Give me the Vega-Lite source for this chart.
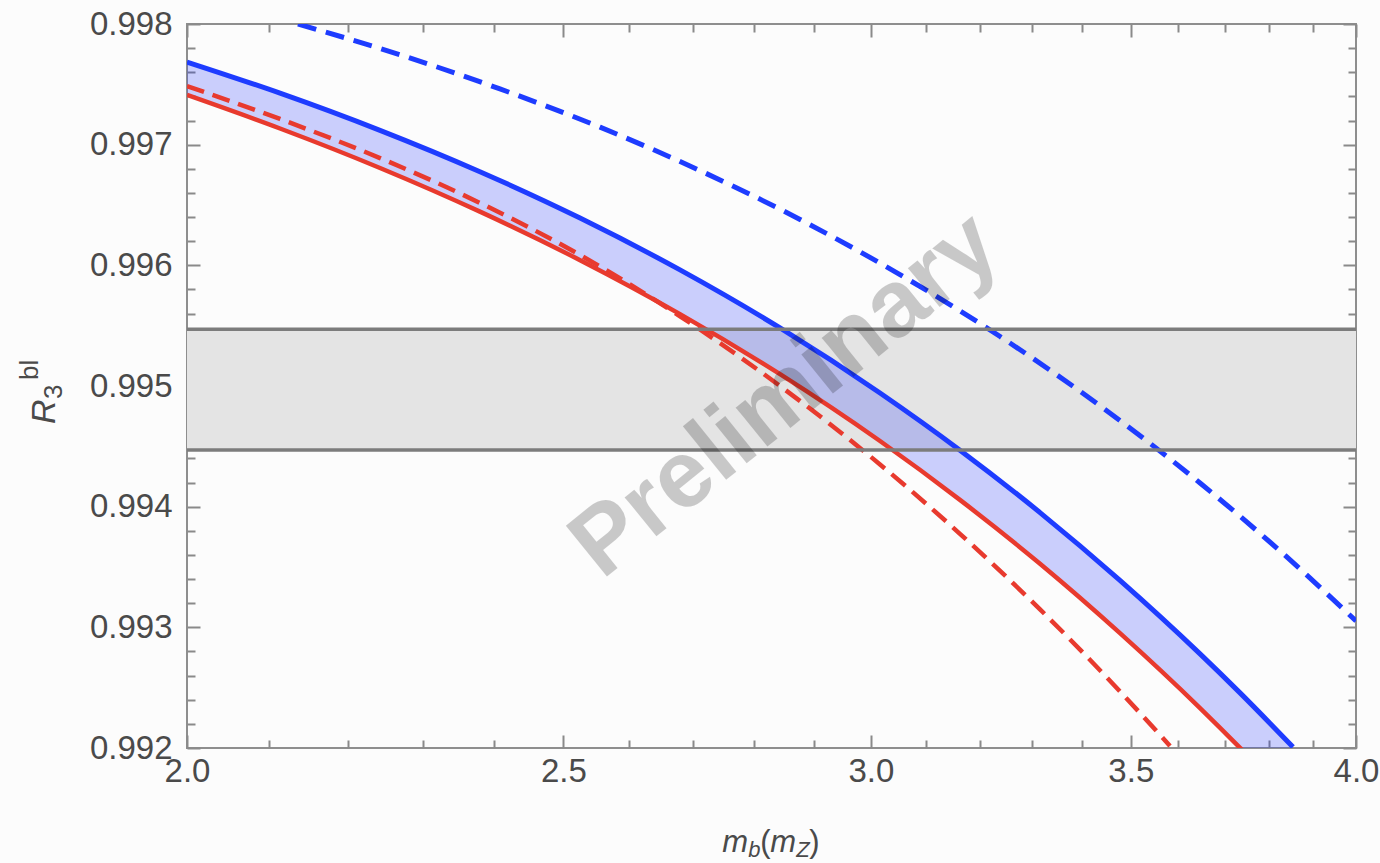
{
  "$schema": "https://vega.github.io/schema/vega-lite/v6.json",
  "width": 1169,
  "height": 724,
  "autosize": {"type": "none"},
  "padding": {"left": 187, "top": 24, "right": 24, "bottom": 115},
  "background": "#fcfcfc",
  "config": {
    "view": {"stroke": "#8e8e8e", "strokeWidth": 2},
    "axis": {"grid": false, "domain": false, "title": null, "tickColor": "#8a8a8a", "tickWidth": 2, "labelFont": "Liberation Sans", "labelFontSize": 33, "labelColor": "#4a4a4a", "labelFlush": false, "labelOverlap": false}
  },
  "datasets": {
    "band": [{"lo": 0.99447, "hi": 0.99547}],
    "solid": [
      {"x": 2.0, "blue": 0.997685, "red": 0.997412},
      {"x": 2.1134, "blue": 0.997427, "red": 0.997134},
      {"x": 2.2425, "blue": 0.997119, "red": 0.996807},
      {"x": 2.3794, "blue": 0.996776, "red": 0.996445},
      {"x": 2.5249, "blue": 0.996392, "red": 0.996043},
      {"x": 2.6791, "blue": 0.995962, "red": 0.995596},
      {"x": 2.8428, "blue": 0.995481, "red": 0.995098},
      {"x": 3.0164, "blue": 0.994942, "red": 0.994544},
      {"x": 3.1628, "blue": 0.994468, "red": 0.994056},
      {"x": 3.3166, "blue": 0.993951, "red": 0.993527},
      {"x": 3.4776, "blue": 0.993389, "red": 0.992952},
      {"x": 3.6467, "blue": 0.99278, "red": 0.992331},
      {"x": 3.7342, "blue": 0.992457, "red": 0.992001},
      {"x": 3.8533, "blue": 0.992008, "red": 0.991544}
    ],
    "rdash": [
      {"x": 2.0, "y": 0.997486},
      {"x": 2.1134, "y": 0.997213},
      {"x": 2.2425, "y": 0.996889},
      {"x": 2.3794, "y": 0.996517},
      {"x": 2.5249, "y": 0.996086},
      {"x": 2.6791, "y": 0.995578},
      {"x": 2.8428, "y": 0.995},
      {"x": 3.0164, "y": 0.99435},
      {"x": 3.1628, "y": 0.993775},
      {"x": 3.3166, "y": 0.993149},
      {"x": 3.4776, "y": 0.992469},
      {"x": 3.5823, "y": 0.992017}
    ],
    "bdash": [
      {"x": 2.136, "y": 0.998},
      {"x": 2.2693, "y": 0.997745},
      {"x": 2.4078, "y": 0.997462},
      {"x": 2.555, "y": 0.997145},
      {"x": 2.7111, "y": 0.996785},
      {"x": 2.8767, "y": 0.99638},
      {"x": 3.0523, "y": 0.995923},
      {"x": 3.239, "y": 0.99541},
      {"x": 3.4368, "y": 0.994836},
      {"x": 3.6467, "y": 0.994196},
      {"x": 3.8238, "y": 0.993633},
      {"x": 4.0, "y": 0.993053}
    ]
  },
  "layer": [
    {
      "data": {"name": "band"},
      "mark": {"type": "rect", "fill": "#e4e4e4"},
      "encoding": {
        "x": {"datum": 2, "type": "quantitative", "scale": {"type": "log", "domain": [2, 4], "nice": false},
          "axis": {"orient": "bottom", "values": [2.0, 2.1, 2.2, 2.3, 2.4, 2.5, 2.6, 2.7, 2.8, 2.9, 3.0, 3.1, 3.2, 3.3, 3.4, 3.5, 3.6, 3.7, 3.8, 3.9, 4.0],
            "labelExpr": "abs(datum.value*2 - round(datum.value*2)) < 0.001 ? format(datum.value, '.1f') : ''",
            "tickSize": {"condition": {"test": "abs(datum.value*2 - round(datum.value*2)) < 0.001", "value": -13}, "value": -8},
            "labelPadding": 20, "labelBaseline": "top"}},
        "x2": {"datum": 4},
        "y": {"field": "lo", "type": "quantitative", "scale": {"domain": [0.992, 0.998], "nice": false, "zero": false},
          "axis": {"orient": "left", "values": [0.992, 0.9922, 0.9924, 0.9926, 0.9928, 0.993, 0.9932, 0.9934, 0.9936, 0.9938, 0.994, 0.9942, 0.9944, 0.9946, 0.9948, 0.995, 0.9952, 0.9954, 0.9956, 0.9958, 0.996, 0.9962, 0.9964, 0.9966, 0.9968, 0.997, 0.9972, 0.9974, 0.9976, 0.9978, 0.998],
            "labelExpr": "abs(datum.value*1000 - round(datum.value*1000)) < 0.001 ? format(datum.value, '.3f') : ''",
            "tickSize": {"condition": {"test": "abs(datum.value*1000 - round(datum.value*1000)) < 0.001", "value": -13}, "value": -8},
            "labelPadding": 28}},
        "y2": {"field": "hi"}
      }
    },
    {
      "data": {"name": "solid"},
      "mark": {"type": "area", "fill": "#1428ff", "opacity": 0.21, "interpolate": "monotone", "clip": true},
      "encoding": {
        "x": {"field": "x", "type": "quantitative", "scale": {"type": "log", "domain": [2, 4], "nice": false},
          "axis": {"orient": "top", "values": [2.0, 2.1, 2.2, 2.3, 2.4, 2.5, 2.6, 2.7, 2.8, 2.9, 3.0, 3.1, 3.2, 3.3, 3.4, 3.5, 3.6, 3.7, 3.8, 3.9, 4.0], "labels": false,
            "tickSize": {"condition": {"test": "abs(datum.value*2 - round(datum.value*2)) < 0.001", "value": -13}, "value": -8}}},
        "y": {"field": "blue", "type": "quantitative", "scale": {"domain": [0.992, 0.998], "nice": false, "zero": false},
          "axis": {"orient": "right", "values": [0.992, 0.9922, 0.9924, 0.9926, 0.9928, 0.993, 0.9932, 0.9934, 0.9936, 0.9938, 0.994, 0.9942, 0.9944, 0.9946, 0.9948, 0.995, 0.9952, 0.9954, 0.9956, 0.9958, 0.996, 0.9962, 0.9964, 0.9966, 0.9968, 0.997, 0.9972, 0.9974, 0.9976, 0.9978, 0.998], "labels": false,
            "tickSize": {"condition": {"test": "abs(datum.value*1000 - round(datum.value*1000)) < 0.001", "value": -13}, "value": -8}}},
        "y2": {"field": "red"}
      }
    },
    {
      "data": {"name": "solid"},
      "mark": {"type": "line", "stroke": "#1e3cff", "strokeWidth": 5, "interpolate": "monotone", "clip": true},
      "encoding": {
        "x": {"field": "x", "type": "quantitative", "scale": {"type": "log", "domain": [2, 4], "nice": false}, "axis": null},
        "y": {"field": "blue", "type": "quantitative", "scale": {"domain": [0.992, 0.998], "nice": false, "zero": false}, "axis": null}
      }
    },
    {
      "data": {"name": "solid"},
      "mark": {"type": "line", "stroke": "#e83a2e", "strokeWidth": 4.5, "interpolate": "monotone", "clip": true},
      "encoding": {
        "x": {"field": "x", "type": "quantitative", "scale": {"type": "log", "domain": [2, 4], "nice": false}, "axis": null},
        "y": {"field": "red", "type": "quantitative", "scale": {"domain": [0.992, 0.998], "nice": false, "zero": false}, "axis": null}
      }
    },
    {
      "data": {"name": "rdash"},
      "mark": {"type": "line", "stroke": "#e83a2e", "strokeWidth": 4.5, "strokeDash": [18, 9], "interpolate": "monotone", "clip": true},
      "encoding": {
        "x": {"field": "x", "type": "quantitative", "scale": {"type": "log", "domain": [2, 4], "nice": false}, "axis": null},
        "y": {"field": "y", "type": "quantitative", "scale": {"domain": [0.992, 0.998], "nice": false, "zero": false}, "axis": null}
      }
    },
    {
      "data": {"name": "bdash"},
      "mark": {"type": "line", "stroke": "#1e3cff", "strokeWidth": 5, "strokeDash": [19, 10], "interpolate": "monotone", "clip": true},
      "encoding": {
        "x": {"field": "x", "type": "quantitative", "scale": {"type": "log", "domain": [2, 4], "nice": false}, "axis": null},
        "y": {"field": "y", "type": "quantitative", "scale": {"domain": [0.992, 0.998], "nice": false, "zero": false}, "axis": null}
      }
    },
    {
      "data": {"name": "band"},
      "mark": {"type": "rule", "stroke": "#7c7c7c", "strokeWidth": 3.5},
      "encoding": {
        "y": {"field": "lo", "type": "quantitative", "scale": {"domain": [0.992, 0.998], "nice": false, "zero": false}, "axis": null}
      }
    },
    {
      "data": {"name": "band"},
      "mark": {"type": "rule", "stroke": "#7c7c7c", "strokeWidth": 3.5},
      "encoding": {
        "y": {"field": "hi", "type": "quantitative", "scale": {"domain": [0.992, 0.998], "nice": false, "zero": false}, "axis": null}
      }
    },
    {
      "data": {"values": [{}]},
      "mark": {"type": "text", "text": "Preliminary", "font": "Liberation Sans", "fontWeight": "bold", "fontSize": 95, "angle": -39, "align": "center", "baseline": "middle", "fill": "#000000", "opacity": 0.2},
      "encoding": {
        "x": {"datum": 2.851, "type": "quantitative", "scale": {"type": "log", "domain": [2, 4], "nice": false}, "axis": null},
        "y": {"datum": 0.994925, "type": "quantitative", "scale": {"domain": [0.992, 0.998], "nice": false, "zero": false}, "axis": null}
      }
    },
    {
      "data": {"values": [{}]},
      "mark": {"type": "text", "text": "R", "font": "Liberation Sans", "fontStyle": "italic", "fontSize": 34, "angle": -90, "align": "left", "baseline": "alphabetic", "fill": "#4a4a4a", "dx": -38, "dy": -132},
      "encoding": {
        "x": {"datum": 2, "type": "quantitative", "scale": {"type": "log", "domain": [2, 4], "nice": false}, "axis": null},
        "y": {"datum": 0.995, "type": "quantitative", "scale": {"domain": [0.992, 0.998], "nice": false, "zero": false}, "axis": null}
      }
    },
    {
      "data": {"values": [{}]},
      "mark": {"type": "text", "text": "3", "font": "Liberation Sans", "fontSize": 26, "angle": -90, "align": "left", "baseline": "alphabetic", "fill": "#4a4a4a", "dx": -13, "dy": -125},
      "encoding": {
        "x": {"datum": 2, "type": "quantitative", "scale": {"type": "log", "domain": [2, 4], "nice": false}, "axis": null},
        "y": {"datum": 0.995, "type": "quantitative", "scale": {"domain": [0.992, 0.998], "nice": false, "zero": false}, "axis": null}
      }
    },
    {
      "data": {"values": [{}]},
      "mark": {"type": "text", "text": "bl", "font": "Liberation Sans", "fontSize": 26, "angle": -90, "align": "left", "baseline": "alphabetic", "fill": "#4a4a4a", "dx": 6, "dy": -149},
      "encoding": {
        "x": {"datum": 2, "type": "quantitative", "scale": {"type": "log", "domain": [2, 4], "nice": false}, "axis": null},
        "y": {"datum": 0.995, "type": "quantitative", "scale": {"domain": [0.992, 0.998], "nice": false, "zero": false}, "axis": null}
      }
    },
    {
      "data": {"values": [{}]},
      "mark": {"type": "text", "text": "m", "font": "Liberation Sans", "fontStyle": "italic", "fontSize": 31, "align": "left", "baseline": "alphabetic", "fill": "#4a4a4a", "dx": -49, "dy": 104},
      "encoding": {
        "x": {"datum": 2.828, "type": "quantitative", "scale": {"type": "log", "domain": [2, 4], "nice": false}, "axis": null},
        "y": {"datum": 0.992, "type": "quantitative", "scale": {"domain": [0.992, 0.998], "nice": false, "zero": false}, "axis": null}
      }
    },
    {
      "data": {"values": [{}]},
      "mark": {"type": "text", "text": "b", "font": "Liberation Sans", "fontStyle": "italic", "fontSize": 22, "align": "left", "baseline": "alphabetic", "fill": "#4a4a4a", "dx": -23, "dy": 109},
      "encoding": {
        "x": {"datum": 2.828, "type": "quantitative", "scale": {"type": "log", "domain": [2, 4], "nice": false}, "axis": null},
        "y": {"datum": 0.992, "type": "quantitative", "scale": {"domain": [0.992, 0.998], "nice": false, "zero": false}, "axis": null}
      }
    },
    {
      "data": {"values": [{}]},
      "mark": {"type": "text", "text": "(", "font": "Liberation Sans", "fontSize": 31, "align": "left", "baseline": "alphabetic", "fill": "#4a4a4a", "dx": -11, "dy": 104},
      "encoding": {
        "x": {"datum": 2.828, "type": "quantitative", "scale": {"type": "log", "domain": [2, 4], "nice": false}, "axis": null},
        "y": {"datum": 0.992, "type": "quantitative", "scale": {"domain": [0.992, 0.998], "nice": false, "zero": false}, "axis": null}
      }
    },
    {
      "data": {"values": [{}]},
      "mark": {"type": "text", "text": "m", "font": "Liberation Sans", "fontStyle": "italic", "fontSize": 31, "align": "left", "baseline": "alphabetic", "fill": "#4a4a4a", "dx": -1, "dy": 104},
      "encoding": {
        "x": {"datum": 2.828, "type": "quantitative", "scale": {"type": "log", "domain": [2, 4], "nice": false}, "axis": null},
        "y": {"datum": 0.992, "type": "quantitative", "scale": {"domain": [0.992, 0.998], "nice": false, "zero": false}, "axis": null}
      }
    },
    {
      "data": {"values": [{}]},
      "mark": {"type": "text", "text": "Z", "font": "Liberation Sans", "fontStyle": "italic", "fontSize": 22, "align": "left", "baseline": "alphabetic", "fill": "#4a4a4a", "dx": 25, "dy": 109},
      "encoding": {
        "x": {"datum": 2.828, "type": "quantitative", "scale": {"type": "log", "domain": [2, 4], "nice": false}, "axis": null},
        "y": {"datum": 0.992, "type": "quantitative", "scale": {"domain": [0.992, 0.998], "nice": false, "zero": false}, "axis": null}
      }
    },
    {
      "data": {"values": [{}]},
      "mark": {"type": "text", "text": ")", "font": "Liberation Sans", "fontSize": 31, "align": "left", "baseline": "alphabetic", "fill": "#4a4a4a", "dx": 38, "dy": 104},
      "encoding": {
        "x": {"datum": 2.828, "type": "quantitative", "scale": {"type": "log", "domain": [2, 4], "nice": false}, "axis": null},
        "y": {"datum": 0.992, "type": "quantitative", "scale": {"domain": [0.992, 0.998], "nice": false, "zero": false}, "axis": null}
      }
    }
  ],
  "resolve": {"axis": {"x": "independent", "y": "independent"}}
}
